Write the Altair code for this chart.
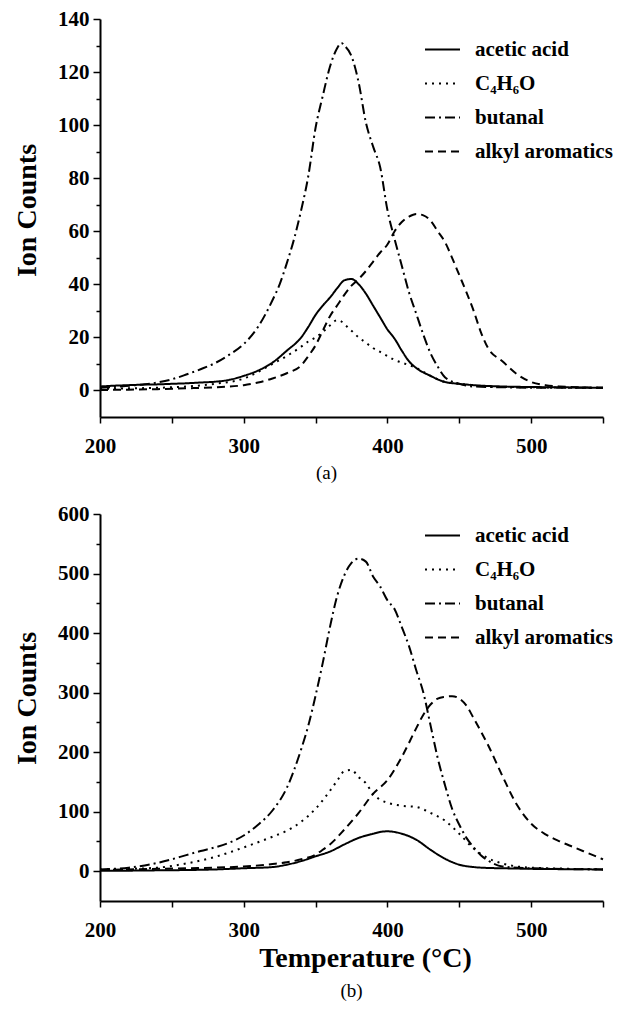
import altair as alt
import pandas as pd

SERIES = ["acetic acid", "C₄H₆O", "butanal", "alkyl aromatics"]
DASHES = [[1, 0], [2, 5], [10, 4, 2, 4], [8, 5]]

# ---------------- panel (a) ----------------
a_acetic_T = [200, 210, 220, 230, 240, 250, 260, 270, 280, 290, 300, 310, 320, 330, 340, 345, 350, 355, 360, 365,
              370, 375, 380, 385, 390, 395, 400, 405, 410, 415, 420, 430, 440, 450, 460, 480, 500, 520, 550]
a_acetic_v = [1.5, 1.8, 2, 2.2, 2.3, 2.5, 2.7, 3, 3.3, 4, 5.5, 7.5, 10.5, 15, 20, 24, 28.5, 32, 35, 38.5,
              41.5, 42, 40, 36.5, 32, 27.5, 23, 19.5, 15, 11, 8.5, 5.5, 3.2, 2.5, 2, 1.5, 1.3, 1.2, 1]

a_c4h6o_T = [200, 220, 240, 260, 280, 300, 310, 320, 330, 340, 345, 350, 355, 360, 365, 368, 370, 375, 380, 385,
             390, 395, 400, 405, 410, 420, 430, 440, 450, 470, 500, 550]
a_c4h6o_v = [0.5, 0.8, 1, 1.5, 2.5, 4.5, 7, 10, 13, 16.5, 18.5, 20, 22, 24.5, 26.5, 26, 25, 22.5, 20, 18,
             16, 14.5, 13, 11.5, 10.5, 8.5, 5.5, 3.2, 2.5, 1.5, 1.2, 1]

a_butanal_T = [200, 220, 240, 250, 260, 270, 280, 290, 300, 310, 320, 325, 330, 335, 340, 345, 350, 355, 360, 365,
               368, 370, 375, 380, 385, 390, 395, 400, 405, 410, 415, 420, 425, 430, 435, 440, 450, 460, 480, 500, 550]
a_butanal_v = [1, 1.8, 3, 4.2, 6, 8, 10.3, 13.5, 17.5, 24, 34, 40, 48, 57, 68, 81, 99, 111, 122, 129,
               131, 130, 126, 116, 101, 92, 84, 68, 57, 47, 37, 29, 21, 14, 9, 5, 2.5, 1.5, 1.2, 1, 1]

a_alkyl_T = [200, 220, 240, 260, 280, 300, 310, 320, 330, 340, 345, 350, 355, 360, 365, 370, 375, 380, 385, 390,
             395, 400, 405, 410, 415, 420, 425, 430, 435, 440, 445, 450, 455, 460, 465, 470, 480, 490, 500, 510,
             520, 550]
a_alkyl_v = [0.2, 0.3, 0.5, 0.8, 1.2, 2, 3, 4.5, 6.5, 9.5, 13, 17, 22.5, 28, 32, 36, 39.5, 42, 45, 48.5,
             52, 55, 60, 63.5, 65.5, 66.5, 66, 64, 60, 56, 50, 43.5, 37, 30, 22, 16, 11, 6.2, 3.2, 2,
             1.5, 1]

# ---------------- panel (b) ----------------
b_acetic_T = [200, 220, 240, 260, 280, 300, 320, 330, 340, 350, 360, 370, 380, 390, 395, 400, 410, 420, 430, 440,
              450, 460, 470, 480, 500, 520, 550]
b_acetic_v = [1, 1, 1.5, 2, 3, 5, 7, 11, 17, 25, 33, 45, 56, 63, 66, 67, 63, 53, 36, 21,
              11, 7, 5.5, 5, 4, 3.5, 3]

b_c4h6o_T = [200, 220, 240, 260, 280, 300, 320, 330, 340, 350, 360, 365, 370, 375, 380, 385, 390, 395, 400, 410,
             420, 430, 440, 450, 460, 470, 480, 490, 500, 520, 550]
b_c4h6o_v = [3, 4, 6, 13, 24, 40, 58, 68, 83, 105, 135, 152, 168, 170, 158, 148, 130, 120, 115, 110,
             108, 98, 85, 63, 38, 22, 13, 8, 6, 4.5, 3]

b_butanal_T = [200, 220, 240, 260, 270, 280, 290, 300, 310, 320, 330, 340, 345, 350, 355, 360, 365, 370, 375, 380,
               385, 390, 395, 400, 405, 410, 415, 420, 425, 430, 435, 440, 445, 450, 455, 460, 465, 470, 480, 500,
               550]
b_butanal_v = [3, 6, 14, 27, 34, 40, 48, 60, 78, 102, 140, 205, 245, 295, 350, 410, 462, 497, 518, 525,
               520, 495, 478, 455, 440, 410, 378, 338, 300, 245, 190, 145, 105, 78, 56, 40, 27, 18, 8, 5,
               3]

b_alkyl_T = [200, 220, 240, 260, 280, 300, 320, 330, 340, 350, 355, 360, 370, 380, 390, 400, 410, 420, 425, 430,
             435, 440, 445, 450, 455, 460, 465, 470, 480, 490, 500, 510, 520, 530, 540, 550]
b_alkyl_v = [2, 3, 4, 5, 6, 8, 12, 15, 20, 28, 36, 45, 70, 98, 130, 153, 192, 240, 263, 280,
             290, 293, 294, 290, 278, 257, 235, 212, 160, 112, 80, 62, 50, 40, 30, 20]


def frame(parts):
    rows = []
    for name, ts, vs in parts:
        for t, v in zip(ts, vs):
            rows.append({"T": t, "v": v, "series": name})
    return pd.DataFrame(rows)


df_a = frame([(SERIES[0], a_acetic_T, a_acetic_v), (SERIES[1], a_c4h6o_T, a_c4h6o_v),
              (SERIES[2], a_butanal_T, a_butanal_v), (SERIES[3], a_alkyl_T, a_alkyl_v)])
df_b = frame([(SERIES[0], b_acetic_T, b_acetic_v), (SERIES[1], b_c4h6o_T, b_c4h6o_v),
              (SERIES[2], b_butanal_T, b_butanal_v), (SERIES[3], b_alkyl_T, b_alkyl_v)])

FONT = "Liberation Serif"
LBL = dict(labelFont=FONT, labelFontWeight="bold", labelFontSize=21, labelColor="black")
TTL = dict(titleFont=FONT, titleFontWeight="bold", titleFontSize=28, titleColor="black")


def panel(df, ydom, ystep, ymajor, height, legend_y, xtitle, caption, caption_dx, caption_offset, title_y):
    yvals = list(range(0, ydom[1] + 1, ystep))
    x_axis = alt.Axis(
        values=list(range(200, 551, 50)),
        labelExpr="datum.value % 100 === 0 ? datum.label : ''",
        tickSize=6,
        labelPadding=12,
        labelFlush=False,
        title=xtitle if xtitle else None,
        titlePadding=4,
        titleX=265,
        **LBL, **TTL,
    )
    y_axis = alt.Axis(
        values=yvals,
        labelExpr=f"datum.value % {ymajor} === 0 ? datum.label : ''",
        tickSize={"condition": {"test": f"datum.value % {ymajor} === 0", "value": 7}, "value": 4},
        labelPadding=4,
        title="Ion Counts",
        titlePadding=16,
        titleY=title_y,
        **LBL, **TTL,
    )
    return (
        alt.Chart(df)
        .mark_line(color="black", strokeWidth=2, interpolate="monotone")
        .encode(
            x=alt.X("T:Q", scale=alt.Scale(domain=[200, 550], nice=False, zero=False), axis=x_axis),
            y=alt.Y("v:Q", scale=alt.Scale(domain=ydom, nice=False, zero=False), axis=y_axis),
            strokeDash=alt.StrokeDash(
                "series:N",
                sort=SERIES,
                scale=alt.Scale(domain=SERIES, range=DASHES),
                legend=alt.Legend(
                    title=None,
                    orient="none",
                    legendX=324,
                    legendY=legend_y,
                    symbolType="stroke",
                    symbolSize=1225,
                    symbolStrokeWidth=2,
                    symbolStrokeColor="black",
                    labelFont=FONT,
                    labelFontWeight="bold",
                    labelFontSize=21,
                    labelColor="black",
                    labelOffset=14,
                    rowPadding=5,
                    labelLimit=300,
                ),
            ),
        )
        .properties(
            width=503,
            height=height,
            title=alt.TitleParams(
                caption, orient="bottom", font=FONT, fontSize=19, fontWeight="normal",
                color="black", dx=caption_dx, offset=caption_offset,
            ),
        )
    )


top = panel(df_a, [-10, 140], 10, 20, 398, 12, None, "(a)", -25, 8, 191)
bottom = panel(df_b, [-50, 600], 50, 100, 387, 3, "Temperature (°C)", "(b)", 0, 10, 184)

chart = (
    alt.vconcat(top, bottom, spacing=20)
    .resolve_scale(strokeDash="independent")
    .resolve_legend(strokeDash="independent")
    .properties(padding={"left": 5, "top": 0, "right": 0, "bottom": 0})
    .configure_view(stroke=None)
    .configure_axis(
        grid=False,
        domainColor="black",
        domainWidth=2,
        tickColor="black",
        tickWidth=1.5,
    )
)

chart.save("out.html", embed_options={"renderer": "svg", "actions": False})
